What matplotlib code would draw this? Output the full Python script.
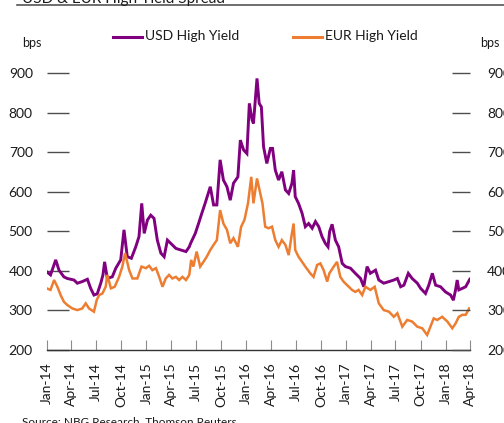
import numpy as np
import pandas as pd
import matplotlib
matplotlib.use('Agg')
import matplotlib.pyplot as plt
import matplotlib.dates as mdates
from matplotlib.lines import Line2D

plt.rcParams['font.family'] = ['Lato', 'DejaVu Sans']

# colour definitions
colour_usd = '#800080'
colour_eur = '#ED7D31'
colour_text = '#1a1a1a'
colour_axis = '#4d4d4d'

# =============================================================================
# Spread data (bps)
# =============================================================================

usd_dates = ['2014-01-01', '2014-01-15', '2014-02-03', '2014-02-15', '2014-03-05', '2014-03-17',
             '2014-04-11', '2014-04-23', '2014-05-11', '2014-05-30', '2014-06-11', '2014-06-23',
             '2014-07-05', '2014-07-18', '2014-07-26', '2014-08-01', '2014-08-11', '2014-08-29',
             '2014-09-11', '2014-09-29', '2014-10-11', '2014-10-23', '2014-11-07', '2014-11-23',
             '2014-12-05', '2014-12-15', '2014-12-24', '2015-01-05', '2015-01-17', '2015-01-29',
             '2015-02-10', '2015-02-23', '2015-03-07', '2015-03-19', '2015-03-31', '2015-04-19',
             '2015-05-07', '2015-05-26', '2015-06-07', '2015-06-12', '2015-06-29', '2015-07-11',
             '2015-07-23', '2015-08-04', '2015-08-23', '2015-09-04', '2015-09-16', '2015-09-28',
             '2015-10-10', '2015-10-23', '2015-11-04', '2015-11-16', '2015-12-02', '2015-12-11',
             '2015-12-23', '2016-01-04', '2016-01-13', '2016-01-23', '2016-01-28', '2016-02-10',
             '2016-02-18', '2016-02-26', '2016-03-05', '2016-03-17', '2016-03-30', '2016-04-07',
             '2016-04-17', '2016-04-29', '2016-05-11', '2016-05-24', '2016-06-05', '2016-06-17',
             '2016-06-23', '2016-06-29', '2016-07-11', '2016-07-24', '2016-08-05', '2016-08-17',
             '2016-08-30', '2016-09-11', '2016-09-23', '2016-10-05', '2016-10-17', '2016-10-27',
             '2016-11-02', '2016-11-11', '2016-11-23', '2016-12-05', '2016-12-18', '2016-12-30',
             '2017-01-17', '2017-02-04', '2017-02-23', '2017-03-07', '2017-03-19', '2017-03-31',
             '2017-04-19', '2017-05-01', '2017-05-19', '2017-06-07', '2017-06-25', '2017-07-08',
             '2017-07-20', '2017-08-01', '2017-08-17', '2017-08-31', '2017-09-19', '2017-10-01',
             '2017-10-19', '2017-10-31', '2017-11-13', '2017-11-25', '2017-12-13', '2017-12-31',
             '2018-01-19', '2018-01-29', '2018-02-06', '2018-02-12', '2018-02-18', '2018-03-03',
             '2018-03-15', '2018-03-30']
usd_hy = [398, 390, 428, 402, 385, 381,
          377, 369, 373, 379, 356, 339,
          342, 369, 390, 423, 381, 385,
          407, 428, 504, 436, 432, 461,
          487, 571, 495, 529, 541, 533,
          478, 445, 436, 478, 470, 457,
          453, 449, 461, 470, 495, 520,
          546, 571, 613, 567, 567, 681,
          630, 613, 579, 622, 638, 731,
          706, 697, 824, 782, 773, 887,
          824, 815, 714, 672, 710, 710,
          655, 630, 651, 605, 596, 622,
          655, 588, 571, 546, 512, 520,
          508, 525, 512, 487, 470, 461,
          500, 518, 478, 461, 419, 411,
          407, 394, 381, 360, 411, 394,
          402, 377, 369, 373, 377, 381,
          360, 364, 394, 381, 369, 356,
          343, 364, 394, 364, 360, 347,
          339, 326, 352, 377, 352, 356,
          360, 379]

eur_dates = ['2014-01-01', '2014-01-15', '2014-01-28', '2014-02-09', '2014-02-21', '2014-03-05',
             '2014-03-17', '2014-04-05', '2014-04-23', '2014-05-11', '2014-05-24', '2014-06-05',
             '2014-06-23', '2014-07-03', '2014-07-12', '2014-07-24', '2014-08-05', '2014-08-11',
             '2014-08-24', '2014-09-07', '2014-09-23', '2014-10-05', '2014-10-15', '2014-10-30',
             '2014-11-11', '2014-11-29', '2014-12-14', '2014-12-30', '2015-01-11', '2015-01-23',
             '2015-02-05', '2015-02-17', '2015-03-01', '2015-03-13', '2015-03-25', '2015-04-06',
             '2015-04-19', '2015-05-01', '2015-05-13', '2015-05-26', '2015-06-07', '2015-06-14',
             '2015-06-22', '2015-07-04', '2015-07-17', '2015-07-29', '2015-08-10', '2015-08-23',
             '2015-09-04', '2015-09-16', '2015-09-28', '2015-10-10', '2015-10-23', '2015-11-04',
             '2015-11-16', '2015-12-02', '2015-12-14', '2015-12-26', '2016-01-08', '2016-01-20',
             '2016-01-28', '2016-02-10', '2016-02-22', '2016-03-01', '2016-03-11', '2016-03-23',
             '2016-04-05', '2016-04-17', '2016-04-29', '2016-05-11', '2016-05-24', '2016-06-05',
             '2016-06-15', '2016-06-23', '2016-06-29', '2016-07-11', '2016-07-24', '2016-08-05',
             '2016-08-23', '2016-09-04', '2016-09-17', '2016-09-29', '2016-10-11', '2016-10-24',
             '2016-11-01', '2016-11-17', '2016-11-29', '2016-12-11', '2016-12-23', '2017-01-05',
             '2017-01-23', '2017-02-04', '2017-02-16', '2017-03-01', '2017-03-13', '2017-03-31',
             '2017-04-16', '2017-05-01', '2017-05-19', '2017-06-07', '2017-06-25', '2017-07-08',
             '2017-07-26', '2017-08-13', '2017-08-31', '2017-09-19', '2017-10-07', '2017-10-25',
             '2017-11-06', '2017-11-18', '2017-12-01', '2017-12-19', '2018-01-07', '2018-01-25',
             '2018-02-06', '2018-02-18', '2018-03-03', '2018-03-15', '2018-03-28']
eur_hy = [356, 352, 377, 360, 339, 322,
          314, 305, 301, 305, 318, 305,
          297, 326, 339, 343, 360, 390,
          356, 360, 385, 411, 445, 402,
          381, 381, 411, 407, 413, 402,
          407, 385, 360, 381, 390, 381,
          385, 377, 385, 377, 390, 428,
          411, 449, 411, 423, 436, 453,
          466, 478, 554, 520, 504, 470,
          483, 461, 512, 529, 571, 638,
          571, 634, 596, 571, 512, 508,
          512, 478, 461, 478, 466, 440,
          487, 520, 453, 436, 423, 411,
          394, 385, 415, 419, 402, 373,
          394, 411, 423, 385, 373, 364,
          352, 347, 352, 339, 360, 352,
          360, 318, 301, 297, 284, 293,
          259, 276, 272, 259, 255, 238,
          259, 280, 276, 284, 272, 255,
          267, 284, 289, 289, 305]

y_ticks = [200, 300, 400, 500, 600, 700, 800, 900]

# =============================================================================
# Figure
# =============================================================================

W, H = 504, 423
fig = plt.figure(figsize=(W / 100, H / 100), dpi=100)

def fx(px):
    return px / W

def fy(py):
    return 1 - py / H

ax = fig.add_axes([fx(46.7), fy(350), fx(470.3) - fx(46.7), fy(73.3) - fy(350)])

ax.plot(pd.to_datetime(usd_dates), usd_hy, color=colour_usd, linewidth=2.1,
        solid_joinstyle='miter')
ax.plot(pd.to_datetime(eur_dates), eur_hy, color=colour_eur, linewidth=1.8,
        solid_joinstyle='miter')

ax.set_xlim(pd.Timestamp('2014-01-01'), pd.Timestamp('2018-04-01'))
ax.set_ylim(200, 900)

# quarterly date axis
ax.xaxis.set_major_locator(mdates.MonthLocator(bymonth=[1, 4, 7, 10]))
ax.xaxis.set_major_formatter(mdates.DateFormatter('%b-%y'))
ax.tick_params(axis='x', direction='in', length=7, width=0.8, color='#8c8c8c',
               labelsize=10, labelcolor=colour_text, pad=9, labelrotation=90)

ax.set_yticks(y_ticks)
ax.tick_params(axis='y', direction='in', length=15.5, width=1, color=colour_axis,
               labelsize=10, labelcolor=colour_text, pad=10)

for side in ['top', 'right', 'left']:
    ax.spines[side].set_visible(False)
ax.spines['bottom'].set_color('#333333')
ax.spines['bottom'].set_linewidth(1)

# right hand axis mirrors the left
ax2 = ax.twinx()
ax2.set_ylim(200, 900)
ax2.set_yticks(y_ticks)
ax2.tick_params(axis='y', direction='in', length=13, width=1, color=colour_axis,
                labelsize=10, labelcolor=colour_text, pad=12)
for side in ['top', 'right', 'left', 'bottom']:
    ax2.spines[side].set_visible(False)

# units
fig.text(fx(22), fy(43), 'bps', fontsize=9, color=colour_text, va='center', ha='left')
fig.text(fx(480), fy(43), 'bps', fontsize=9, color=colour_text, va='center', ha='left')

# legend
fig.add_artist(Line2D([fx(113), fx(142)], [fy(37), fy(37)], color=colour_usd, linewidth=2.2))
fig.text(fx(145), fy(36), 'USD High Yield', fontsize=10, color=colour_text, va='center', ha='left')
fig.add_artist(Line2D([fx(293), fx(322)], [fy(37), fy(37)], color=colour_eur, linewidth=2.2))
fig.text(fx(325), fy(36), 'EUR High Yield', fontsize=10, color=colour_text, va='center', ha='left')

# header and source
fig.text(fx(22), fy(3), 'USD & EUR High Yield Spread', fontsize=11, color=colour_text,
         va='baseline', ha='left')
fig.add_artist(Line2D([fx(17), fx(504)], [fy(5.5), fy(5.5)], color='#555555', linewidth=1.2))
fig.text(fx(22), fy(425), 'Source: NBG Research, Thomson Reuters', fontsize=8.5,
         color=colour_text, va='baseline', ha='left')

plt.savefig('out.png', dpi=100)
